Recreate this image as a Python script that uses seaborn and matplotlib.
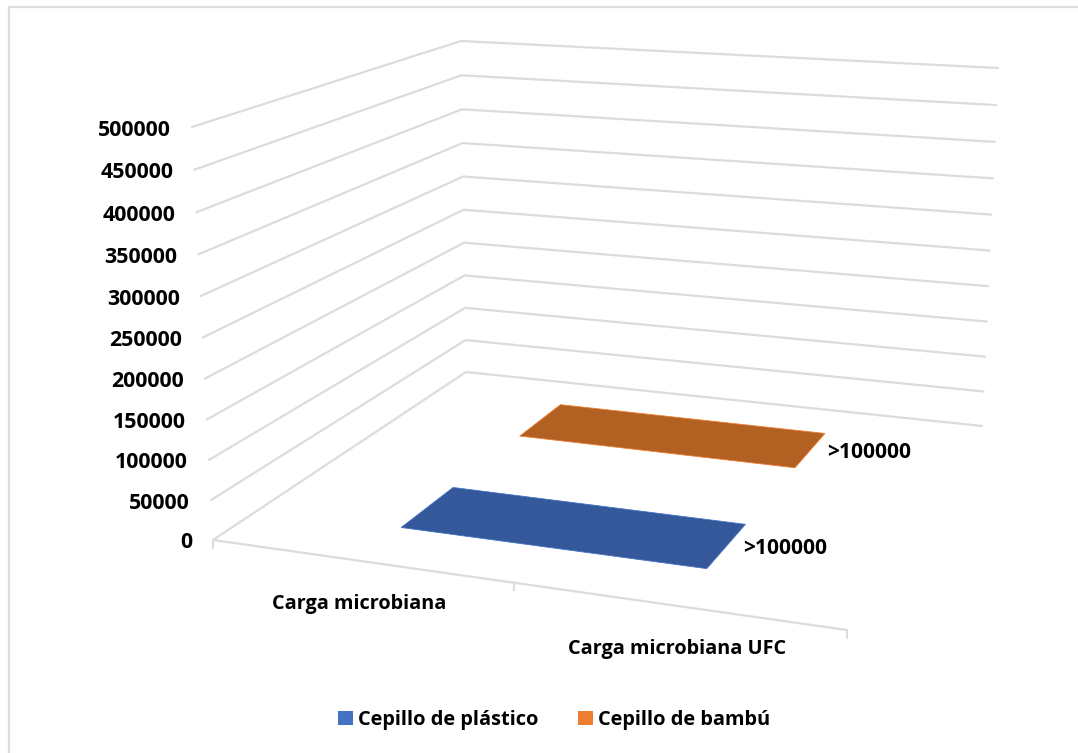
import numpy as np
import pandas as pd
import matplotlib
matplotlib.use("Agg")
import matplotlib.pyplot as plt
from matplotlib.patches import Patch
import seaborn as sns

# ---- data ----
y_ticks = [0, 50000, 100000, 150000, 200000, 250000, 300000, 350000, 400000, 450000, 500000]
series_names = ["Cepillo de plástico", "Cepillo de bambú"]
bar_values = [0, 0]
bar_labels = [">100000", ">100000"]
category_labels = ["Carga microbiana", "Carga microbiana UFC"]

# ---- style / layout ----
sns.set_theme(style="white")
plt.rcParams["font.family"] = ["Open Sans", "DejaVu Sans"]
FS = 14.3
FS_NUM = 15.4
FS_LABEL = 15.1
FS_LEG = 14.4
GRID = "#dcdcdc"
FACE = ["#35589A", "#B36023"]
EDGE = ["#4472C4", "#ED7D31"]
LEG = ["#4472C4", "#ED7D31"]
Z_MAX = 500000
BAR_U = (0.25, 0.75)
BAR_V = [(0.155, 0.36), (0.657, 0.86)]

# screen corners of the 3-D box: front-left, front-right, back-right, back-left
FLOOR = [(213, 540), (847, 630), (982, 426), (466, 372)]
TOP = [(192, 127), (835, 240), (998, 68), (461, 41)]


def homography(q):
    (x0, y0), (x1, y1), (x2, y2), (x3, y3) = q
    dx1, dx2, sx = x1 - x2, x3 - x2, x0 - x1 + x2 - x3
    dy1, dy2, sy = y1 - y2, y3 - y2, y0 - y1 + y2 - y3
    den = dx1 * dy2 - dx2 * dy1
    g = (sx * dy2 - dx2 * sy) / den
    h = (dx1 * sy - sx * dy1) / den
    a, b = x1 - x0 + g * x1, x3 - x0 + h * x3
    d, e = y1 - y0 + g * y1, y3 - y0 + h * y3

    def f(u, v):
        w = g * u + h * v + 1
        return (a * u + b * v + x0) / w, (d * u + e * v + y0) / w
    return f


H0, H1 = homography(FLOOR), homography(TOP)


def project(u, v, z=0):
    s = z / Z_MAX
    t = s / (1 + 0.04 * (1 - s))
    x0, y0 = H0(u, v)
    x1, y1 = H1(u, v)
    return x0 + (x1 - x0) * t, y0 + (y1 - y0) * t


fig = plt.figure(figsize=(10.78, 7.53), dpi=100, facecolor="white")
ax = fig.add_axes([0, 0, 1, 1])

# wall gridlines
rows = []
for z in y_ticks:
    for u, v in [(0, 0), (0, 1), (1, 1)]:
        x, y = project(u, v, z)
        rows.append({"x": x, "y": y, "line": f"z{z}"})
# floor front edge and category ticks
for u in (0, 1):
    x, y = project(u, 0)
    rows.append({"x": x, "y": y, "line": "front"})
for u in (0, 0.5, 1):
    x, y = project(u, 0)
    rows.append({"x": x + (2 if u == 0.5 else 0), "y": y, "line": f"tick{u}"})
    rows.append({"x": x + (2 if u == 0.5 else 0), "y": y + 8, "line": f"tick{u}"})
grid = pd.DataFrame(rows)
sns.lineplot(data=grid, x="x", y="y", units="line", estimator=None, sort=False,
             color=GRID, lw=1.6, legend=False, ax=ax)

# flat (near-zero height) bars
for i, name in enumerate(series_names):
    v0, v1 = BAR_V[i]
    u0, u1 = BAR_U
    pts = [project(u, v, bar_values[i]) for u, v in [(u0, v0), (u1, v0), (u1, v1), (u0, v1)]]
    ax.fill(*zip(*pts), facecolor=FACE[i], edgecolor=EDGE[i], lw=0.6)
    lx, ly = project(u1, (v0 + v1) / 2, bar_values[i])
    ax.text(lx + 17, ly + [3, 2][i], bar_labels[i], fontsize=FS_LABEL, fontweight="bold",
            color="black", ha="left", va="center")

# value axis labels
for z in y_ticks:
    x, y = project(0, 0, z)
    ax.text(x - 21, y + 3, str(z), fontsize=FS_NUM, fontweight="bold", color="black",
            ha="right", va="center")

# category / series axis labels
ax.text(359, 604, category_labels[0], fontsize=FS, fontweight="bold", color="black",
        ha="center", va="center")
ax.text(677, 649, category_labels[1], fontsize=FS, fontweight="bold", color="black",
        ha="center", va="center")

# chart frame (top and left only visible)
ax.plot([9, 9, 1078], [753, 6.5, 6.5], color=GRID, lw=1.6)

handles = [Patch(facecolor=c, edgecolor="none", label=n) for c, n in zip(LEG, series_names)]
ax.legend(handles=handles, loc="center", bbox_to_anchor=(554, 720),
          bbox_transform=ax.transData, ncol=2, frameon=False, labelcolor="black",
          prop={"weight": "bold", "size": FS_LEG}, handlelength=0.75, handleheight=0.75,
          handletextpad=0.25, columnspacing=1.95)

ax.set_xlim(0, 1078)
ax.set_ylim(753, 0)
ax.axis("off")
fig.savefig("out.png", dpi=100, facecolor="white")
